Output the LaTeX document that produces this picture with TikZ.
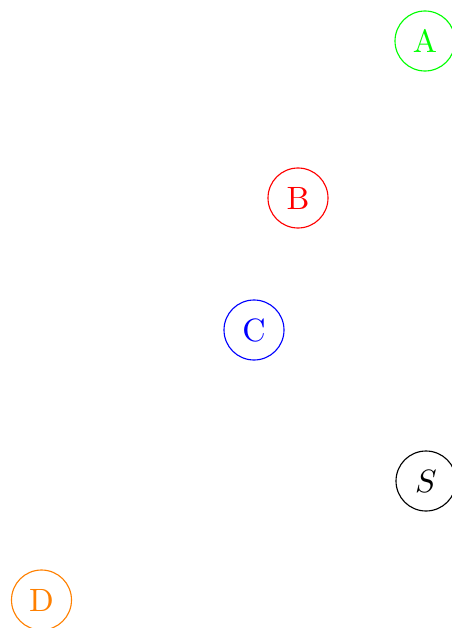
\documentclass[tikz,border=0pt]{standalone}
\begin{document}
\begin{tikzpicture}[x=0.31pt,y=-0.31pt,
  vtx/.style={circle,draw,minimum size=18.6pt,inner sep=0pt,line width=0.35pt}]
\useasboundingbox (0,0) rectangle (451,628);
\node[vtx,green,text=green] (A) at (425,41) {A};
\node[vtx,red,text=red] (B) at (298,198) {B};
\node[vtx,blue,text=blue] (C) at (254,330) {C};
\node[vtx,black] (S) at (426,481) {$S$};
\node[vtx,orange,text=orange] (D) at (41.5,600) {D};
\end{tikzpicture}
\end{document}
